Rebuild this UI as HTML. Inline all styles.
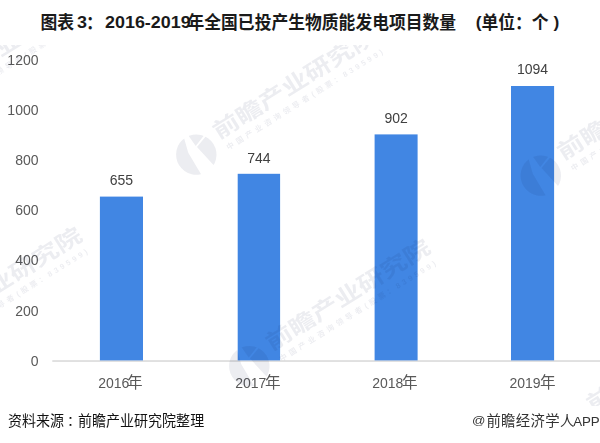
<!DOCTYPE html>
<html lang="zh-CN">
<head>
<meta charset="utf-8">
<title>图表3：2016-2019年全国已投产生物质能发电项目数量(单位：个)</title>
<style>
html,body{margin:0;padding:0;background:#fff}
body{width:600px;height:443px;overflow:hidden;font-family:"Liberation Sans", sans-serif}
#chart{position:relative;width:600px;height:443px;overflow:hidden;background:#fff;font-family:"Liberation Sans", sans-serif;filter:blur(0.4px)}
h1{margin:0;font-size:inherit;font-weight:inherit}
.t{position:absolute;white-space:nowrap;font-family:"Liberation Sans", sans-serif}
.cjk{position:absolute;display:block;overflow:visible}
.cjk svg{position:absolute;left:0;top:0;display:block;overflow:visible}
.cjk svg text{font-family:"Liberation Sans","Noto Sans CJK SC",sans-serif}
.plot{position:absolute;left:0;top:0}
.yaxis,.labels{position:absolute;left:0;top:0;width:600px;height:443px;will-change:transform}
.wm{position:absolute;left:0;overflow:hidden;fill:#141e50;opacity:0.078;pointer-events:none}
.wm text{font-family:"Liberation Sans","Noto Sans CJK SC",sans-serif}
</style>
</head>
<body>
<div id="chart">
<h1 class="title">
<span class="cjk" style="left:0;top:12.75px;width:600px;height:17.90px;font-size:17.90px"><svg viewBox="0 -880 35714 1000" preserveAspectRatio="none" width="600" height="17.90" fill="#1a1a1a" role="img" aria-label="图表3：2016-2019年全国已投产生物质能发电项目数量(单位：个)"><text x="2411" y="0" font-size="1000" font-weight="700">图表</text><text x="5119" y="0" font-size="1000" font-weight="700">：</text><text x="11161" y="0" font-size="1000" font-weight="700">年全国已投产生物质能发电项目数量</text><text x="28661" y="0" font-size="1000" font-weight="700">单位：个</text></svg></span><span class="t" style="left:76.90px;top:14.27px;font-size:17.4px;line-height:17.4px;color:#1a1a1a;font-weight:700;transform:scaleX(1.03);transform-origin:left center;">3</span><span class="t" style="left:105.40px;top:14.27px;font-size:17.4px;line-height:17.4px;color:#1a1a1a;font-weight:700;transform:scaleX(1.03);transform-origin:left center;">2016-2019</span><span class="t" style="left:475.70px;top:14.27px;font-size:17.4px;line-height:17.4px;color:#1a1a1a;font-weight:700;">(</span><span class="t" style="left:553.50px;top:14.27px;font-size:17.4px;line-height:17.4px;color:#1a1a1a;font-weight:700;">)</span>
</h1>
<div class="yaxis">
<span class="t" style="left:38.50px;top:354.15px;font-size:14px;line-height:14px;color:#595959;transform:translateX(-100%);transform-origin:right center;">0</span>
<span class="t" style="left:38.50px;top:304.15px;font-size:14px;line-height:14px;color:#595959;transform:translateX(-100%);transform-origin:right center;">200</span>
<span class="t" style="left:38.50px;top:253.15px;font-size:14px;line-height:14px;color:#595959;transform:translateX(-100%);transform-origin:right center;">400</span>
<span class="t" style="left:38.50px;top:203.15px;font-size:14px;line-height:14px;color:#595959;transform:translateX(-100%);transform-origin:right center;">600</span>
<span class="t" style="left:38.50px;top:153.15px;font-size:14px;line-height:14px;color:#595959;transform:translateX(-100%);transform-origin:right center;">800</span>
<span class="t" style="left:38.50px;top:103.15px;font-size:14px;line-height:14px;color:#595959;transform:translateX(-100%);transform-origin:right center;">1000</span>
<span class="t" style="left:38.50px;top:53.15px;font-size:14px;line-height:14px;color:#595959;transform:translateX(-100%);transform-origin:right center;">1200</span>
</div>
<svg class="plot" width="600" height="443" viewBox="0 0 600 443" role="img" aria-label="bar chart"><rect class="axis" x="52.3" y="360.3" width="547.7" height="1.45" fill="#d6d6d6"/><rect class="bar" x="99.9" y="196.60" width="43.1" height="163.80" fill="#4186e3"><title>2016年: 655</title></rect><rect class="bar" x="237.7" y="173.80" width="42.4" height="186.60" fill="#4186e3"><title>2017年: 744</title></rect><rect class="bar" x="374.6" y="134.40" width="43.0" height="226.00" fill="#4186e3"><title>2018年: 902</title></rect><rect class="bar" x="511.0" y="86.00" width="43.1" height="274.40" fill="#4186e3"><title>2019年: 1094</title></rect></svg>
<div class="labels">
<span class="t" style="left:121.45px;top:173.15px;font-size:14px;line-height:14px;color:#404040;transform:translateX(-50%);transform-origin:center center;">655</span>
<span class="t" style="left:98.20px;top:375.65px;font-size:14px;line-height:14px;color:#595959;">2016</span>
<span class="cjk" style="left:127.04px;top:374.17px;width:15.60px;height:15.60px;font-size:15.60px"><svg viewBox="0 -880 1000 1000" preserveAspectRatio="none" width="15.60" height="15.60" fill="#595959" role="img" aria-label="年"><text x="0" y="0" font-size="1000">年</text></svg></span>
<span class="t" style="left:258.90px;top:151.15px;font-size:14px;line-height:14px;color:#404040;transform:translateX(-50%);transform-origin:center center;">744</span>
<span class="t" style="left:235.20px;top:375.65px;font-size:14px;line-height:14px;color:#595959;">2017</span>
<span class="cjk" style="left:264.94px;top:374.17px;width:15.60px;height:15.60px;font-size:15.60px"><svg viewBox="0 -880 1000 1000" preserveAspectRatio="none" width="15.60" height="15.60" fill="#595959" role="img" aria-label="年"><text x="0" y="0" font-size="1000">年</text></svg></span>
<span class="t" style="left:396.10px;top:111.15px;font-size:14px;line-height:14px;color:#404040;transform:translateX(-50%);transform-origin:center center;">902</span>
<span class="t" style="left:372.20px;top:375.65px;font-size:14px;line-height:14px;color:#595959;">2018</span>
<span class="cjk" style="left:402.24px;top:374.17px;width:15.60px;height:15.60px;font-size:15.60px"><svg viewBox="0 -880 1000 1000" preserveAspectRatio="none" width="15.60" height="15.60" fill="#595959" role="img" aria-label="年"><text x="0" y="0" font-size="1000">年</text></svg></span>
<span class="t" style="left:532.55px;top:62.15px;font-size:14px;line-height:14px;color:#404040;transform:translateX(-50%);transform-origin:center center;">1094</span>
<span class="t" style="left:509.40px;top:375.65px;font-size:14px;line-height:14px;color:#595959;">2019</span>
<span class="cjk" style="left:539.64px;top:374.17px;width:15.60px;height:15.60px;font-size:15.60px"><svg viewBox="0 -880 1000 1000" preserveAspectRatio="none" width="15.60" height="15.60" fill="#595959" role="img" aria-label="年"><text x="0" y="0" font-size="1000">年</text></svg></span>
</div>
<div class="src">
<span class="cjk" style="left:8.10px;top:412.82px;width:56.08px;height:14.98px;font-size:14.00px"><svg viewBox="0 -880 4000 1000" preserveAspectRatio="none" width="56.08" height="14.98" fill="#111" role="img" aria-label="资料来源"><text x="0" y="0" font-size="1000">资料来源</text></svg></span>
<span class="cjk" style="left:67.48px;top:414.31px;width:14.00px;height:12.60px;font-size:14.00px"><svg viewBox="0 -880 1000 1000" preserveAspectRatio="none" width="14.00" height="12.60" fill="#111" role="img" aria-label="："><text x="0" y="0" font-size="1000">：</text></svg></span>
<span class="cjk" style="left:78.20px;top:412.82px;width:126.18px;height:14.98px;font-size:14.00px"><svg viewBox="0 -880 9000 1000" preserveAspectRatio="none" width="126.18" height="14.98" fill="#111" role="img" aria-label="前瞻产业研究院整理"><text x="0" y="0" font-size="1000">前瞻产业研究院整理</text></svg></span>
</div>
<div class="app">
<span class="t" style="left:472.40px;top:414.57px;font-size:11.5px;line-height:11.5px;color:#333;transform:scaleX(1.15);transform-origin:left center;">@</span>
<span class="cjk" style="left:0;top:413.13px;width:600px;height:14.4px;font-size:14.4px"><svg viewBox="0 -880 41667 1000" preserveAspectRatio="none" width="600" height="14.4" fill="#333" role="img" aria-label="前瞻经济学人"><text x="33779" y="0" font-size="1000" letter-spacing="22">前瞻经济学人</text></svg></span>
<span class="t" style="left:573.20px;top:415.14px;font-size:13.3px;line-height:13.3px;color:#333;letter-spacing:-0.15px;">APP</span>
</div>
<svg class="wm" width="600" height="361" viewBox="0 45 600 361" style="top:45px" aria-hidden="true"><defs><g id="wm"><mask id="lm" maskUnits="userSpaceOnUse" x="-22" y="-22" width="44" height="44"><rect x="-22" y="-22" width="44" height="44" fill="#fff"/><path fill="#000" d="M-1.2-22H3.4L4.1-7.6 21-13.8V-11.6L4.6-6 9.8 22H-6.4L-5.8-5.9Z"/></mask><circle cx="0" cy="0" r="20.2" mask="url(#lm)" fill-opacity="1.25"/><text transform="translate(0,-0.7) scale(0.0270,0.0216)" x="1000" y="0" font-size="1000" font-weight="700">前瞻产业研究院</text><text transform="translate(0,13.4) scale(0.0076,0.0076)" x="3900" y="0" font-size="1000" font-weight="700" letter-spacing="460">中国产业咨询领导者</text><text transform="translate(0,13.4) scale(0.0076,0.0076)" x="17061" y="0" font-size="1000" font-weight="700" textLength="10865" lengthAdjust="spacing">(股票：839599)</text></g></defs><use href="#wm" transform="translate(196.3,154.6) rotate(-32.0)"/><use href="#wm" transform="translate(249.3,366.1) rotate(-32.0)"/><use href="#wm" transform="translate(-98.9,354.3) rotate(-32.0)"/><use href="#wm" transform="translate(540.8,175.6) rotate(-32.0)"/><use href="#wm" transform="translate(569.9,427.3) rotate(-32.0)"/><use href="#wm" transform="translate(-90.7,115.1) rotate(-32.0)"/></svg>
</div>
</body>
</html>
